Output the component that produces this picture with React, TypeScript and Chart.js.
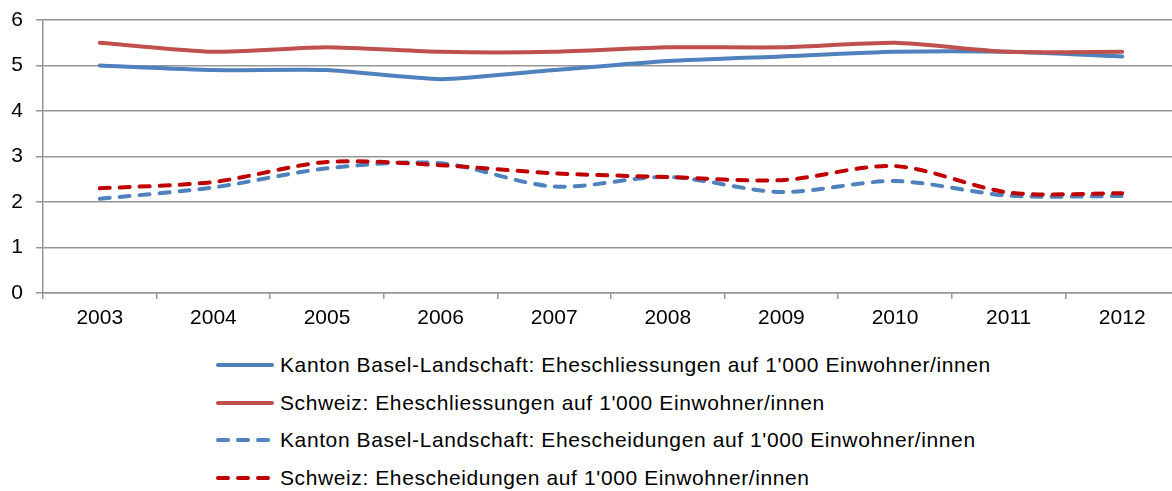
import React, { useEffect, useRef } from "react";
import { Chart, registerables } from "chart.js";

Chart.register(...registerables);

const years = ["2003", "2004", "2005", "2006", "2007", "2008", "2009", "2010", "2011", "2012"];
const blMarriages = [5.0, 4.9, 4.9, 4.7, 4.9, 5.1, 5.2, 5.3, 5.3, 5.2];
const chMarriages = [5.5, 5.3, 5.4, 5.3, 5.3, 5.4, 5.4, 5.5, 5.3, 5.3];
const blDivorces = [2.07, 2.32, 2.74, 2.85, 2.34, 2.55, 2.22, 2.46, 2.14, 2.13];
const chDivorces = [2.3, 2.44, 2.88, 2.81, 2.63, 2.55, 2.48, 2.79, 2.21, 2.19];
const yTicks = [0, 1, 2, 3, 4, 5, 6];

const seriesLabels = [
  "Kanton Basel-Landschaft: Eheschliessungen auf 1'000 Einwohner/innen",
  "Schweiz: Eheschliessungen auf 1'000 Einwohner/innen",
  "Kanton Basel-Landschaft: Ehescheidungen auf 1'000 Einwohner/innen",
  "Schweiz: Ehescheidungen auf 1'000 Einwohner/innen",
];
const seriesColors = ["#4F81BD", "#C0504D", "#4F81BD", "#C00000"];
const seriesDashed = [false, false, true, true];
const seriesTension = [0.2, 0.2, 0.3, 0.3];

const FONT = "'Liberation Sans', Arial, sans-serif";
const GRID = "#959595";

export default function App() {
  const ref = useRef<HTMLCanvasElement | null>(null);

  useEffect(() => {
    if (!ref.current) return;
    const values = [blMarriages, chMarriages, blDivorces, chDivorces];
    const chart = new Chart(ref.current, {
      type: "line",
      data: {
        labels: years,
        datasets: values.map((v, i) => ({
          label: seriesLabels[i],
          data: v,
          borderColor: seriesColors[i],
          backgroundColor: seriesColors[i],
          borderWidth: 4,
          borderDash: seriesDashed[i] ? [10, 10] : [],
          borderCapStyle: "round" as const,
          borderJoinStyle: "round" as const,
          pointRadius: 0,
          tension: seriesTension[i],
          fill: false,
          order: 3 - i,
        })),
      },
      options: {
        animation: false,
        responsive: false,
        maintainAspectRatio: false,
        layout: { padding: { top: 20, right: 11, left: 0, bottom: 0 } },
        plugins: { legend: { display: false }, tooltip: { enabled: false } },
        scales: {
          x: {
            offset: true,
            grid: {
              display: true,
              drawOnChartArea: false,
              drawTicks: true,
              tickLength: 6,
              color: GRID,
              lineWidth: 1.5,
              offset: true,
            },
            border: { display: true, color: GRID, width: 1.5 },
            ticks: {
              color: "#000",
              font: { family: FONT, size: 21 },
              padding: 7,
              maxRotation: 0,
              autoSkip: false,
            },
            afterFit: (s: any) => {
              s.height = 47;
              s.paddingLeft = 0;
              s.paddingRight = 0;
              s.paddingTop = 0;
              s.paddingBottom = 0;
            },
          },
          y: {
            min: 0,
            max: 6,
            afterBuildTicks: (s: any) => {
              s.ticks = yTicks.map((v) => ({ value: v }));
            },
            grid: { color: GRID, tickLength: 7, drawTicks: true, lineWidth: 1.5 },
            border: { display: true, color: GRID, width: 1.5 },
            ticks: {
              color: "#000",
              font: { family: FONT, size: 21 },
              padding: 13,
            },
            afterFit: (s: any) => {
              s.width = 43;
              s.paddingLeft = 0;
              s.paddingRight = 0;
              s.paddingTop = 0;
              s.paddingBottom = 0;
            },
          },
        },
      },
    });
    return () => chart.destroy();
  }, []);

  const rowCenters = [365, 403, 440, 478];

  return (
    <div
      style={{
        position: "fixed",
        left: 0,
        top: 0,
        width: 1172,
        height: 491,
        overflow: "hidden",
        background: "#fff",
      }}
    >
      <canvas ref={ref} width={1190} height={340} style={{ position: "absolute", left: 0, top: 0, width: 1190, height: 340 }} />
      {seriesLabels.map((lab, i) => (
        <div
          key={i}
          style={{
            position: "absolute",
            left: 214,
            top: rowCenters[i] - 13,
            height: 26,
            display: "flex",
            alignItems: "center",
            whiteSpace: "nowrap",
          }}
        >
          <svg width={62} height={26} style={{ display: "block" }}>
            <line
              x1={4}
              y1={13}
              x2={58}
              y2={13}
              stroke={seriesColors[i]}
              strokeWidth={4}
              strokeLinecap="round"
              strokeDasharray={seriesDashed[i] ? "10 10" : undefined}
            />
          </svg>
          <span
            style={{
              marginLeft: 4,
              fontFamily: FONT,
              fontSize: 21,
              letterSpacing: "0.6px",
              color: "#000",
              lineHeight: "26px",
            }}
          >
            {lab}
          </span>
        </div>
      ))}
    </div>
  );
}
